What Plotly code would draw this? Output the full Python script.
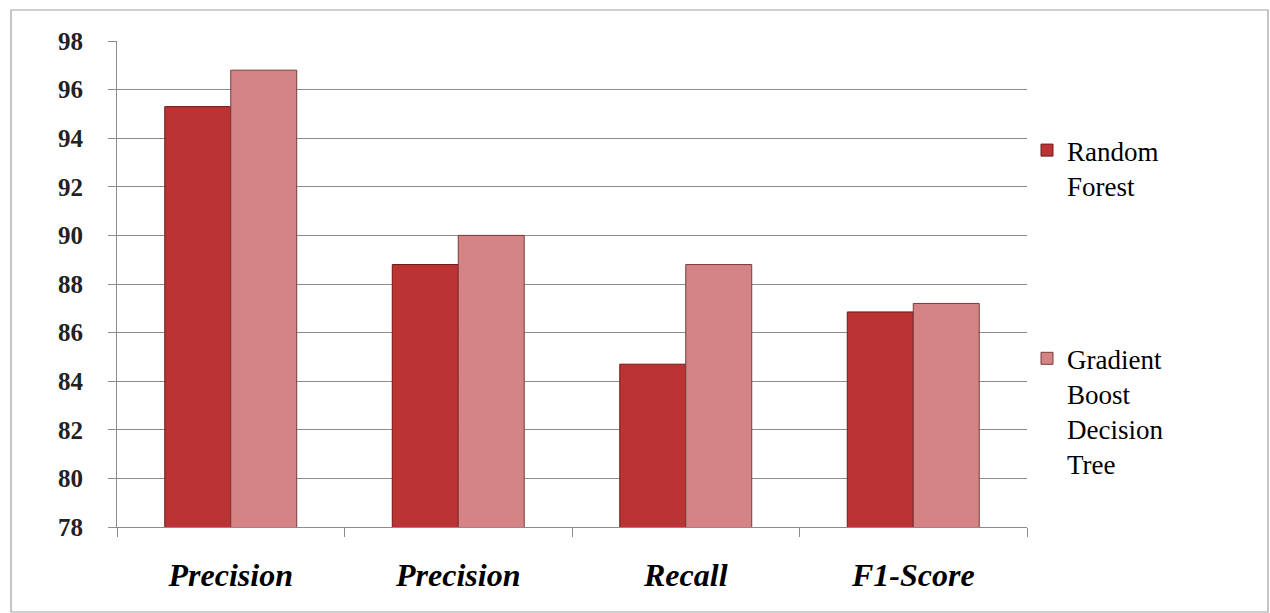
import plotly.graph_objects as go

# Metric labels (the first two are both "Precision")
categories = ["Precision", "Precision", "Recall", "F1-Score"]
random_forest = [95.3, 88.8, 84.7, 86.85]
gradient_boost = [96.8, 90.0, 88.8, 87.2]
y_ticks = [78, 80, 82, 84, 86, 88, 90, 92, 94, 96, 98]

SERIF = "Liberation Serif"
BAR_GAP = 0.42
x_pos = list(range(len(categories)))

fig = go.Figure()
fig.add_trace(go.Bar(
    x=x_pos, y=random_forest, name="Random<br>Forest",
    marker=dict(color="#BC3333", line=dict(color="#6A1A1A", width=1)),
    legendgroup="rf",
))
fig.add_trace(go.Bar(
    x=x_pos, y=gradient_boost, name="Gradient<br>Boost<br>Decision<br>Tree",
    marker=dict(color="#D48484", line=dict(color="#7A3A3A", width=1)),
    legendgroup="gb",
))

fig.update_layout(
    width=1270, height=613,
    margin=dict(l=117, r=243, t=41, b=86),
    barmode="group", bargap=BAR_GAP,
    font=dict(family=SERIF, color="black"),
    legend=dict(
        x=1.0, y=0.825, xanchor="left", yanchor="top",
        font=dict(family=SERIF, size=27, color="black"),
        tracegroupgap=135, valign="top", itemwidth=30,
        bgcolor="rgba(0,0,0,0)",
    ),
    showlegend=True,
    plot_bgcolor="white",
)

fig.update_yaxes(
    range=[78, 98], tickvals=y_ticks,
    ticktext=[f"<b>{t}</b>" for t in y_ticks],
    gridcolor="#8C8C8C", showline=True, linecolor="#8C8C8C",
    ticks="outside", ticklen=8, tickcolor="#8C8C8C",
    tickfont=dict(family=SERIF, size=25, color="#222"),
    ticklabelstandoff=20, zeroline=False,
)
fig.update_xaxes(
    range=[-0.5, 3.5], tickvals=x_pos,
    ticktext=[f"<b><i>{c}</i></b>" for c in categories],
    showline=True, linecolor="#8C8C8C",
    showgrid=False, zeroline=False,
    tickfont=dict(family=SERIF, size=32, color="black"),
    ticklabelstandoff=20,
    minor=dict(tickvals=[-0.5, 0.5, 1.5, 2.5, 3.5], ticks="outside",
               ticklen=9, tickcolor="#8C8C8C", showgrid=False),
)

# Outer chart frame
fig.add_shape(type="rect", xref="paper", yref="paper",
              x0=(11 - 117) / 910, x1=(1268 - 117) / 910,
              y0=(527 - 612) / 486, y1=(527 - 10) / 486,
              line=dict(color="#A0A0A0", width=1.2), layer="below")

fig.write_html("out.html")
